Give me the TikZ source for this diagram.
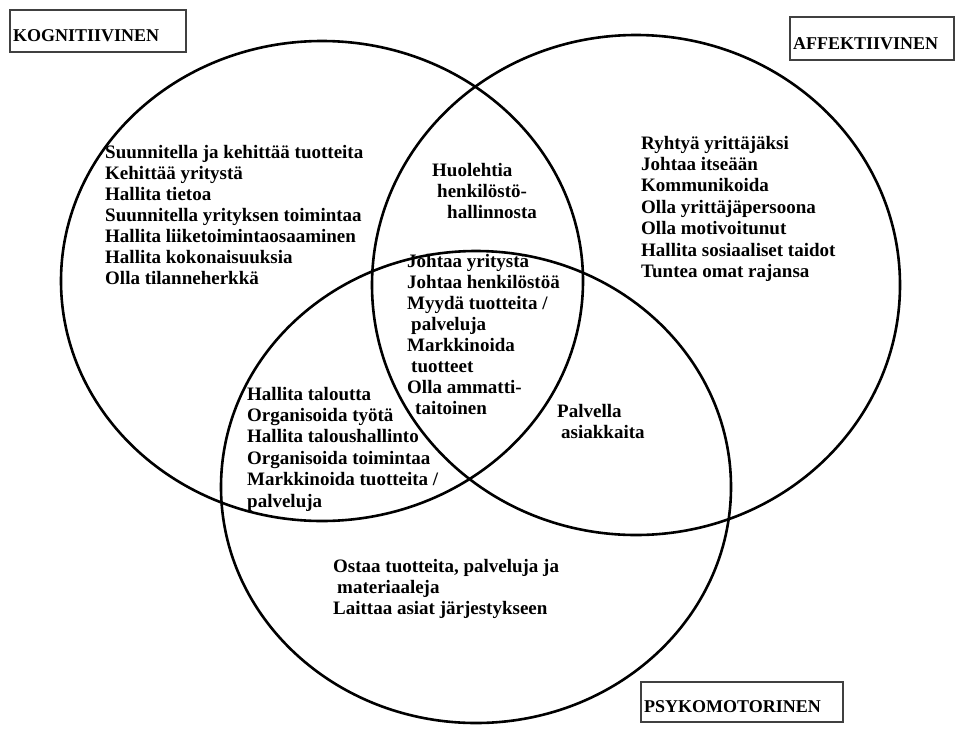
\documentclass[tikz,border=0pt]{standalone}
\usepackage{fontspec}
\setmainfont{Liberation Serif}
\begin{document}
\begin{tikzpicture}[x=1pt,y=-1pt,
  ring/.style={draw=black, line width=2.6pt},
  boxline/.style={draw=black!75, line width=1.3pt},
  domainname/.style={anchor=base west, inner sep=0pt, font=\bfseries\fontsize{18}{21}\selectfont},
  % multi-line lists are placed by the baseline of their last line
  items/.style={anchor=base west, align=left, inner sep=0pt, font=\bfseries\fontsize{19}{21}\selectfont},
  itemswide/.style={items, font=\bfseries\fontsize{19}{21.4}\selectfont}
]
\useasboundingbox (0,0) rectangle (956,729);

% the three domains
\draw[ring] (322,281) ellipse [x radius=261pt, y radius=240pt];
\draw[ring] (636,285) ellipse [x radius=264pt, y radius=250pt];
\draw[ring] (476,487) ellipse [x radius=255pt, y radius=236pt];

% domain name boxes
\draw[boxline] (10,10) rectangle (186,52);
\node[domainname] (kog) at (13,41) {KOGNITIIVINEN};
\draw[boxline] (790,17) rectangle (954,60);
\node[domainname] (aff) at (793,49) {AFFEKTIIVINEN};
\draw[boxline] (641,682) rectangle (843,722);
\node[domainname] (psy) at (644,712) {PSYKOMOTORINEN};

% cognitive only
\node[items] (k) at (105,284) {Suunnitella ja kehittää tuotteita\\
Kehittää yritystä\\
Hallita tietoa\\
Suunnitella yrityksen toimintaa\\
Hallita liiketoimintaosaaminen\\
Hallita kokonaisuuksia\\
Olla tilanneherkkä};

% cognitive and affective
\node[items] (ka) at (432,218) {Huolehtia\\
\hspace*{5pt}henkilöstö-\\
\hspace*{15pt}hallinnosta};

% affective only
\node[itemswide] (a) at (641,277.4) {Ryhtyä yrittäjäksi\\
Johtaa itseään\\
Kommunikoida\\
Olla yrittäjäpersoona\\
Olla motivoitunut\\
Hallita sosiaaliset taidot\\
Tuntea omat rajansa};

% all three
\node[items] (kap) at (407,414) {Johtaa yritystä\\
Johtaa henkilöstöä\\
Myydä tuotteita /\\
\hspace*{4pt}palveluja\\
Markkinoida\\
\hspace*{4pt}tuotteet\\
Olla ammatti-\\
\hspace*{8pt}taitoinen};

% cognitive and psychomotor
\node[itemswide] (kp) at (247,507) {Hallita taloutta\\
Organisoida työtä\\
Hallita taloushallinto\\
Organisoida toimintaa\\
Markkinoida tuotteita /\\
palveluja};

% affective and psychomotor
\node[itemswide] (ap) at (557,438.4) {Palvella\\
\hspace*{4pt}asiakkaita};

% psychomotor only
\node[items] (p) at (333,614) {Ostaa tuotteita, palveluja ja\\
\hspace*{4pt}materiaaleja\\
Laittaa asiat järjestykseen};
\end{tikzpicture}
\end{document}
